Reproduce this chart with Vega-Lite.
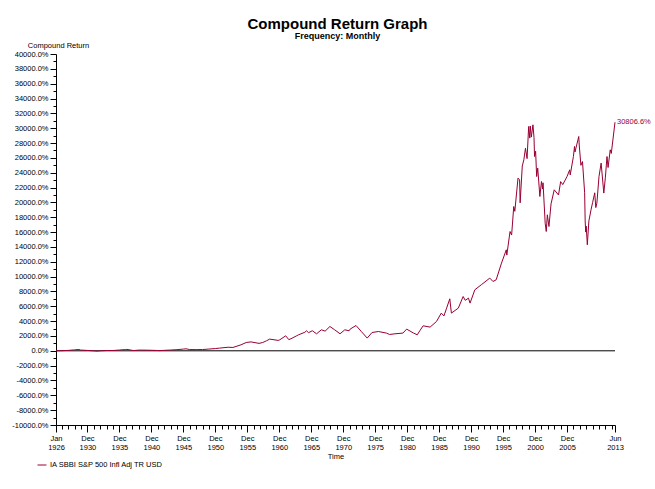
{
  "$schema": "https://vega.github.io/schema/vega-lite/v6.json",
  "width": 559,
  "height": 371,
  "autosize": "none",
  "padding": {"left": 56, "top": 54, "right": 40, "bottom": 64},
  "background": "white",
  "config": {
    "view": {"stroke": null},
    "font": "Liberation Sans",
    "axis": {"grid": false, "domainColor": "black", "tickColor": "black", "labelColor": "black", "titleColor": "black", "labelFont": "Liberation Sans", "titleFont": "Liberation Sans", "labelFontSize": 7.5, "titleFontSize": 7.5, "titleFontWeight": "normal"}
  },
  "title": {
    "text": "Compound Return Graph",
    "subtitle": "Frequency: Monthly",
    "font": "Liberation Sans",
    "fontSize": 15,
    "fontWeight": "bold",
    "subtitleFont": "Liberation Sans",
    "subtitleFontSize": 9,
    "subtitleFontWeight": "bold",
    "subtitleColor": "black",
    "subtitlePadding": 0,
    "color": "black",
    "anchor": "middle",
    "frame": "group",
    "dx": 2,
    "offset": 0
  },
  "data": {
    "values": [
      {"date": "1926-01-01", "value": 0, "series": "IA SBBI S&P 500 Infl Adj TR USD"},
      {"date": "1926-12-01", "value": 15, "series": "IA SBBI S&P 500 Infl Adj TR USD"},
      {"date": "1927-12-01", "value": 55, "series": "IA SBBI S&P 500 Infl Adj TR USD"},
      {"date": "1928-12-01", "value": 125, "series": "IA SBBI S&P 500 Infl Adj TR USD"},
      {"date": "1929-08-01", "value": 180, "series": "IA SBBI S&P 500 Infl Adj TR USD"},
      {"date": "1929-11-01", "value": 100, "series": "IA SBBI S&P 500 Infl Adj TR USD"},
      {"date": "1930-12-01", "value": 50, "series": "IA SBBI S&P 500 Infl Adj TR USD"},
      {"date": "1931-12-01", "value": -10, "series": "IA SBBI S&P 500 Infl Adj TR USD"},
      {"date": "1932-06-01", "value": -45, "series": "IA SBBI S&P 500 Infl Adj TR USD"},
      {"date": "1932-12-01", "value": 0, "series": "IA SBBI S&P 500 Infl Adj TR USD"},
      {"date": "1933-12-01", "value": 40, "series": "IA SBBI S&P 500 Infl Adj TR USD"},
      {"date": "1934-12-01", "value": 40, "series": "IA SBBI S&P 500 Infl Adj TR USD"},
      {"date": "1935-12-01", "value": 105, "series": "IA SBBI S&P 500 Infl Adj TR USD"},
      {"date": "1936-12-01", "value": 170, "series": "IA SBBI S&P 500 Infl Adj TR USD"},
      {"date": "1937-02-01", "value": 190, "series": "IA SBBI S&P 500 Infl Adj TR USD"},
      {"date": "1937-12-01", "value": 65, "series": "IA SBBI S&P 500 Infl Adj TR USD"},
      {"date": "1938-03-01", "value": 30, "series": "IA SBBI S&P 500 Infl Adj TR USD"},
      {"date": "1938-12-01", "value": 95, "series": "IA SBBI S&P 500 Infl Adj TR USD"},
      {"date": "1939-12-01", "value": 90, "series": "IA SBBI S&P 500 Infl Adj TR USD"},
      {"date": "1940-12-01", "value": 70, "series": "IA SBBI S&P 500 Infl Adj TR USD"},
      {"date": "1941-12-01", "value": 40, "series": "IA SBBI S&P 500 Infl Adj TR USD"},
      {"date": "1942-04-01", "value": 25, "series": "IA SBBI S&P 500 Infl Adj TR USD"},
      {"date": "1942-12-01", "value": 60, "series": "IA SBBI S&P 500 Infl Adj TR USD"},
      {"date": "1943-12-01", "value": 105, "series": "IA SBBI S&P 500 Infl Adj TR USD"},
      {"date": "1944-12-01", "value": 150, "series": "IA SBBI S&P 500 Infl Adj TR USD"},
      {"date": "1945-12-01", "value": 230, "series": "IA SBBI S&P 500 Infl Adj TR USD"},
      {"date": "1946-05-01", "value": 270, "series": "IA SBBI S&P 500 Infl Adj TR USD"},
      {"date": "1946-12-01", "value": 170, "series": "IA SBBI S&P 500 Infl Adj TR USD"},
      {"date": "1947-12-01", "value": 160, "series": "IA SBBI S&P 500 Infl Adj TR USD"},
      {"date": "1948-12-01", "value": 170, "series": "IA SBBI S&P 500 Infl Adj TR USD"},
      {"date": "1949-12-01", "value": 235, "series": "IA SBBI S&P 500 Infl Adj TR USD"},
      {"date": "1950-12-01", "value": 300, "series": "IA SBBI S&P 500 Infl Adj TR USD"},
      {"date": "1951-08-01", "value": 364, "series": "IA SBBI S&P 500 Infl Adj TR USD"},
      {"date": "1952-12-01", "value": 480, "series": "IA SBBI S&P 500 Infl Adj TR USD"},
      {"date": "1953-09-01", "value": 450, "series": "IA SBBI S&P 500 Infl Adj TR USD"},
      {"date": "1954-12-01", "value": 800, "series": "IA SBBI S&P 500 Infl Adj TR USD"},
      {"date": "1955-10-01", "value": 1119, "series": "IA SBBI S&P 500 Infl Adj TR USD"},
      {"date": "1956-07-01", "value": 1200, "series": "IA SBBI S&P 500 Infl Adj TR USD"},
      {"date": "1957-10-01", "value": 1000, "series": "IA SBBI S&P 500 Infl Adj TR USD"},
      {"date": "1958-05-01", "value": 1119, "series": "IA SBBI S&P 500 Infl Adj TR USD"},
      {"date": "1958-12-01", "value": 1350, "series": "IA SBBI S&P 500 Infl Adj TR USD"},
      {"date": "1959-06-01", "value": 1577, "series": "IA SBBI S&P 500 Infl Adj TR USD"},
      {"date": "1960-10-01", "value": 1400, "series": "IA SBBI S&P 500 Infl Adj TR USD"},
      {"date": "1961-01-01", "value": 1482, "series": "IA SBBI S&P 500 Infl Adj TR USD"},
      {"date": "1961-12-01", "value": 2022, "series": "IA SBBI S&P 500 Infl Adj TR USD"},
      {"date": "1962-06-01", "value": 1500, "series": "IA SBBI S&P 500 Infl Adj TR USD"},
      {"date": "1962-12-01", "value": 1700, "series": "IA SBBI S&P 500 Infl Adj TR USD"},
      {"date": "1963-08-01", "value": 2000, "series": "IA SBBI S&P 500 Infl Adj TR USD"},
      {"date": "1963-12-01", "value": 2150, "series": "IA SBBI S&P 500 Infl Adj TR USD"},
      {"date": "1964-12-01", "value": 2500, "series": "IA SBBI S&P 500 Infl Adj TR USD"},
      {"date": "1965-03-01", "value": 2695, "series": "IA SBBI S&P 500 Infl Adj TR USD"},
      {"date": "1965-07-01", "value": 2450, "series": "IA SBBI S&P 500 Infl Adj TR USD"},
      {"date": "1966-02-01", "value": 2700, "series": "IA SBBI S&P 500 Infl Adj TR USD"},
      {"date": "1966-10-01", "value": 2291, "series": "IA SBBI S&P 500 Infl Adj TR USD"},
      {"date": "1967-07-01", "value": 2830, "series": "IA SBBI S&P 500 Infl Adj TR USD"},
      {"date": "1968-02-01", "value": 2650, "series": "IA SBBI S&P 500 Infl Adj TR USD"},
      {"date": "1968-11-01", "value": 3275, "series": "IA SBBI S&P 500 Infl Adj TR USD"},
      {"date": "1969-08-01", "value": 2830, "series": "IA SBBI S&P 500 Infl Adj TR USD"},
      {"date": "1970-06-01", "value": 2291, "series": "IA SBBI S&P 500 Infl Adj TR USD"},
      {"date": "1971-03-01", "value": 2830, "series": "IA SBBI S&P 500 Infl Adj TR USD"},
      {"date": "1971-11-01", "value": 2700, "series": "IA SBBI S&P 500 Infl Adj TR USD"},
      {"date": "1972-01-01", "value": 2924, "series": "IA SBBI S&P 500 Infl Adj TR USD"},
      {"date": "1972-12-01", "value": 3410, "series": "IA SBBI S&P 500 Infl Adj TR USD"},
      {"date": "1973-10-01", "value": 2601, "series": "IA SBBI S&P 500 Infl Adj TR USD"},
      {"date": "1974-09-01", "value": 1712, "series": "IA SBBI S&P 500 Infl Adj TR USD"},
      {"date": "1975-06-01", "value": 2466, "series": "IA SBBI S&P 500 Infl Adj TR USD"},
      {"date": "1976-06-01", "value": 2601, "series": "IA SBBI S&P 500 Infl Adj TR USD"},
      {"date": "1977-09-01", "value": 2385, "series": "IA SBBI S&P 500 Infl Adj TR USD"},
      {"date": "1978-03-01", "value": 2200, "series": "IA SBBI S&P 500 Infl Adj TR USD"},
      {"date": "1979-01-01", "value": 2291, "series": "IA SBBI S&P 500 Infl Adj TR USD"},
      {"date": "1980-04-01", "value": 2385, "series": "IA SBBI S&P 500 Infl Adj TR USD"},
      {"date": "1980-11-01", "value": 2924, "series": "IA SBBI S&P 500 Infl Adj TR USD"},
      {"date": "1981-12-01", "value": 2385, "series": "IA SBBI S&P 500 Infl Adj TR USD"},
      {"date": "1982-07-01", "value": 2156, "series": "IA SBBI S&P 500 Infl Adj TR USD"},
      {"date": "1982-12-01", "value": 2736, "series": "IA SBBI S&P 500 Infl Adj TR USD"},
      {"date": "1983-06-01", "value": 3369, "series": "IA SBBI S&P 500 Infl Adj TR USD"},
      {"date": "1984-07-01", "value": 3194, "series": "IA SBBI S&P 500 Infl Adj TR USD"},
      {"date": "1985-07-01", "value": 3949, "series": "IA SBBI S&P 500 Infl Adj TR USD"},
      {"date": "1986-04-01", "value": 5081, "series": "IA SBBI S&P 500 Infl Adj TR USD"},
      {"date": "1986-09-01", "value": 4700, "series": "IA SBBI S&P 500 Infl Adj TR USD"},
      {"date": "1987-02-01", "value": 5755, "series": "IA SBBI S&P 500 Infl Adj TR USD"},
      {"date": "1987-08-01", "value": 7008, "series": "IA SBBI S&P 500 Infl Adj TR USD"},
      {"date": "1987-11-01", "value": 5081, "series": "IA SBBI S&P 500 Infl Adj TR USD"},
      {"date": "1988-12-01", "value": 5755, "series": "IA SBBI S&P 500 Infl Adj TR USD"},
      {"date": "1989-09-01", "value": 7318, "series": "IA SBBI S&P 500 Infl Adj TR USD"},
      {"date": "1990-01-01", "value": 6800, "series": "IA SBBI S&P 500 Infl Adj TR USD"},
      {"date": "1990-07-01", "value": 7102, "series": "IA SBBI S&P 500 Infl Adj TR USD"},
      {"date": "1990-10-01", "value": 6429, "series": "IA SBBI S&P 500 Infl Adj TR USD"},
      {"date": "1991-07-01", "value": 8221, "series": "IA SBBI S&P 500 Infl Adj TR USD"},
      {"date": "1992-07-01", "value": 8895, "series": "IA SBBI S&P 500 Infl Adj TR USD"},
      {"date": "1993-11-01", "value": 9798, "series": "IA SBBI S&P 500 Infl Adj TR USD"},
      {"date": "1994-05-01", "value": 9340, "series": "IA SBBI S&P 500 Infl Adj TR USD"},
      {"date": "1994-11-01", "value": 9569, "series": "IA SBBI S&P 500 Infl Adj TR USD"},
      {"date": "1995-09-01", "value": 11819, "series": "IA SBBI S&P 500 Infl Adj TR USD"},
      {"date": "1996-06-01", "value": 13612, "series": "IA SBBI S&P 500 Infl Adj TR USD"},
      {"date": "1996-07-01", "value": 12900, "series": "IA SBBI S&P 500 Infl Adj TR USD"},
      {"date": "1997-01-01", "value": 16078, "series": "IA SBBI S&P 500 Infl Adj TR USD"},
      {"date": "1997-04-01", "value": 15600, "series": "IA SBBI S&P 500 Infl Adj TR USD"},
      {"date": "1997-08-01", "value": 19447, "series": "IA SBBI S&P 500 Infl Adj TR USD"},
      {"date": "1997-10-01", "value": 18800, "series": "IA SBBI S&P 500 Infl Adj TR USD"},
      {"date": "1998-04-01", "value": 23275, "series": "IA SBBI S&P 500 Infl Adj TR USD"},
      {"date": "1998-07-01", "value": 23046, "series": "IA SBBI S&P 500 Infl Adj TR USD"},
      {"date": "1998-08-01", "value": 19946, "series": "IA SBBI S&P 500 Infl Adj TR USD"},
      {"date": "1998-12-01", "value": 24900, "series": "IA SBBI S&P 500 Infl Adj TR USD"},
      {"date": "1999-03-01", "value": 25741, "series": "IA SBBI S&P 500 Infl Adj TR USD"},
      {"date": "1999-06-01", "value": 27300, "series": "IA SBBI S&P 500 Infl Adj TR USD"},
      {"date": "1999-09-01", "value": 25900, "series": "IA SBBI S&P 500 Infl Adj TR USD"},
      {"date": "1999-12-01", "value": 30229, "series": "IA SBBI S&P 500 Infl Adj TR USD"},
      {"date": "2000-02-01", "value": 28665, "series": "IA SBBI S&P 500 Infl Adj TR USD"},
      {"date": "2000-03-01", "value": 30300, "series": "IA SBBI S&P 500 Infl Adj TR USD"},
      {"date": "2000-05-01", "value": 28800, "series": "IA SBBI S&P 500 Infl Adj TR USD"},
      {"date": "2000-08-01", "value": 30458, "series": "IA SBBI S&P 500 Infl Adj TR USD"},
      {"date": "2000-10-01", "value": 28754, "series": "IA SBBI S&P 500 Infl Adj TR USD"},
      {"date": "2000-11-01", "value": 26185, "series": "IA SBBI S&P 500 Infl Adj TR USD"},
      {"date": "2001-01-01", "value": 26900, "series": "IA SBBI S&P 500 Infl Adj TR USD"},
      {"date": "2001-03-01", "value": 23490, "series": "IA SBBI S&P 500 Infl Adj TR USD"},
      {"date": "2001-05-01", "value": 24618, "series": "IA SBBI S&P 500 Infl Adj TR USD"},
      {"date": "2001-09-01", "value": 20795, "series": "IA SBBI S&P 500 Infl Adj TR USD"},
      {"date": "2001-12-01", "value": 22817, "series": "IA SBBI S&P 500 Infl Adj TR USD"},
      {"date": "2002-02-01", "value": 21800, "series": "IA SBBI S&P 500 Infl Adj TR USD"},
      {"date": "2002-03-01", "value": 22641, "series": "IA SBBI S&P 500 Infl Adj TR USD"},
      {"date": "2002-07-01", "value": 17200, "series": "IA SBBI S&P 500 Infl Adj TR USD"},
      {"date": "2002-09-01", "value": 16078, "series": "IA SBBI S&P 500 Infl Adj TR USD"},
      {"date": "2002-11-01", "value": 18329, "series": "IA SBBI S&P 500 Infl Adj TR USD"},
      {"date": "2003-02-01", "value": 16752, "series": "IA SBBI S&P 500 Infl Adj TR USD"},
      {"date": "2003-06-01", "value": 19800, "series": "IA SBBI S&P 500 Infl Adj TR USD"},
      {"date": "2003-12-01", "value": 21698, "series": "IA SBBI S&P 500 Infl Adj TR USD"},
      {"date": "2004-08-01", "value": 21000, "series": "IA SBBI S&P 500 Infl Adj TR USD"},
      {"date": "2004-12-01", "value": 22800, "series": "IA SBBI S&P 500 Infl Adj TR USD"},
      {"date": "2005-04-01", "value": 22400, "series": "IA SBBI S&P 500 Infl Adj TR USD"},
      {"date": "2005-12-01", "value": 23490, "series": "IA SBBI S&P 500 Infl Adj TR USD"},
      {"date": "2006-05-01", "value": 24393, "series": "IA SBBI S&P 500 Infl Adj TR USD"},
      {"date": "2006-06-01", "value": 23700, "series": "IA SBBI S&P 500 Infl Adj TR USD"},
      {"date": "2006-12-01", "value": 26200, "series": "IA SBBI S&P 500 Infl Adj TR USD"},
      {"date": "2007-02-01", "value": 27534, "series": "IA SBBI S&P 500 Infl Adj TR USD"},
      {"date": "2007-03-01", "value": 26800, "series": "IA SBBI S&P 500 Infl Adj TR USD"},
      {"date": "2007-10-01", "value": 28882, "series": "IA SBBI S&P 500 Infl Adj TR USD"},
      {"date": "2007-11-01", "value": 27600, "series": "IA SBBI S&P 500 Infl Adj TR USD"},
      {"date": "2008-02-01", "value": 25000, "series": "IA SBBI S&P 500 Infl Adj TR USD"},
      {"date": "2008-05-01", "value": 25500, "series": "IA SBBI S&P 500 Infl Adj TR USD"},
      {"date": "2008-09-01", "value": 21294, "series": "IA SBBI S&P 500 Infl Adj TR USD"},
      {"date": "2008-10-01", "value": 17500, "series": "IA SBBI S&P 500 Infl Adj TR USD"},
      {"date": "2008-11-01", "value": 16000, "series": "IA SBBI S&P 500 Infl Adj TR USD"},
      {"date": "2008-12-01", "value": 16800, "series": "IA SBBI S&P 500 Infl Adj TR USD"},
      {"date": "2009-02-01", "value": 14286, "series": "IA SBBI S&P 500 Infl Adj TR USD"},
      {"date": "2009-05-01", "value": 17500, "series": "IA SBBI S&P 500 Infl Adj TR USD"},
      {"date": "2009-09-01", "value": 19003, "series": "IA SBBI S&P 500 Infl Adj TR USD"},
      {"date": "2009-12-01", "value": 20000, "series": "IA SBBI S&P 500 Infl Adj TR USD"},
      {"date": "2010-04-01", "value": 21294, "series": "IA SBBI S&P 500 Infl Adj TR USD"},
      {"date": "2010-06-01", "value": 19300, "series": "IA SBBI S&P 500 Infl Adj TR USD"},
      {"date": "2010-08-01", "value": 19905, "series": "IA SBBI S&P 500 Infl Adj TR USD"},
      {"date": "2010-12-01", "value": 23500, "series": "IA SBBI S&P 500 Infl Adj TR USD"},
      {"date": "2011-04-01", "value": 25296, "series": "IA SBBI S&P 500 Infl Adj TR USD"},
      {"date": "2011-09-01", "value": 21253, "series": "IA SBBI S&P 500 Infl Adj TR USD"},
      {"date": "2011-12-01", "value": 23400, "series": "IA SBBI S&P 500 Infl Adj TR USD"},
      {"date": "2012-03-01", "value": 26185, "series": "IA SBBI S&P 500 Infl Adj TR USD"},
      {"date": "2012-05-01", "value": 24700, "series": "IA SBBI S&P 500 Infl Adj TR USD"},
      {"date": "2012-09-01", "value": 27089, "series": "IA SBBI S&P 500 Infl Adj TR USD"},
      {"date": "2012-11-01", "value": 26600, "series": "IA SBBI S&P 500 Infl Adj TR USD"},
      {"date": "2013-06-01", "value": 30806.6, "series": "IA SBBI S&P 500 Infl Adj TR USD"}
    ]
  },
  "layer": [
    {
      "data": {"values": [{"zero": 0}]},
      "mark": {"type": "rule", "color": "black", "strokeWidth": 1},
      "encoding": {"y": {"field": "zero", "type": "quantitative"}}
    },
    {
      "mark": {"type": "line", "strokeWidth": 1, "interpolate": "linear"},
      "encoding": {
        "x": {
          "field": "date",
          "type": "temporal",
          "scale": {"type": "utc", "domain": [{"year": 1926, "month": 1, "date": 1, "utc": true}, {"year": 2013, "month": 6, "date": 1, "utc": true}]},
          "axis": {
            "title": "Time",
            "titlePadding": 2,
            "labelPadding": 2,
            "labelLineHeight": 9,
            "labelFlush": false,
            "labelOverlap": false,
            "tickCount": 200,
            "values": [
              {"year": 1926, "month": 1, "date": 1, "utc": true},
              {"year": 1926, "month": 12, "date": 1, "utc": true},
              {"year": 1927, "month": 12, "date": 1, "utc": true},
              {"year": 1928, "month": 12, "date": 1, "utc": true},
              {"year": 1929, "month": 12, "date": 1, "utc": true},
              {"year": 1930, "month": 12, "date": 1, "utc": true},
              {"year": 1931, "month": 12, "date": 1, "utc": true},
              {"year": 1932, "month": 12, "date": 1, "utc": true},
              {"year": 1933, "month": 12, "date": 1, "utc": true},
              {"year": 1934, "month": 12, "date": 1, "utc": true},
              {"year": 1935, "month": 12, "date": 1, "utc": true},
              {"year": 1936, "month": 12, "date": 1, "utc": true},
              {"year": 1937, "month": 12, "date": 1, "utc": true},
              {"year": 1938, "month": 12, "date": 1, "utc": true},
              {"year": 1939, "month": 12, "date": 1, "utc": true},
              {"year": 1940, "month": 12, "date": 1, "utc": true},
              {"year": 1941, "month": 12, "date": 1, "utc": true},
              {"year": 1942, "month": 12, "date": 1, "utc": true},
              {"year": 1943, "month": 12, "date": 1, "utc": true},
              {"year": 1944, "month": 12, "date": 1, "utc": true},
              {"year": 1945, "month": 12, "date": 1, "utc": true},
              {"year": 1946, "month": 12, "date": 1, "utc": true},
              {"year": 1947, "month": 12, "date": 1, "utc": true},
              {"year": 1948, "month": 12, "date": 1, "utc": true},
              {"year": 1949, "month": 12, "date": 1, "utc": true},
              {"year": 1950, "month": 12, "date": 1, "utc": true},
              {"year": 1951, "month": 12, "date": 1, "utc": true},
              {"year": 1952, "month": 12, "date": 1, "utc": true},
              {"year": 1953, "month": 12, "date": 1, "utc": true},
              {"year": 1954, "month": 12, "date": 1, "utc": true},
              {"year": 1955, "month": 12, "date": 1, "utc": true},
              {"year": 1956, "month": 12, "date": 1, "utc": true},
              {"year": 1957, "month": 12, "date": 1, "utc": true},
              {"year": 1958, "month": 12, "date": 1, "utc": true},
              {"year": 1959, "month": 12, "date": 1, "utc": true},
              {"year": 1960, "month": 12, "date": 1, "utc": true},
              {"year": 1961, "month": 12, "date": 1, "utc": true},
              {"year": 1962, "month": 12, "date": 1, "utc": true},
              {"year": 1963, "month": 12, "date": 1, "utc": true},
              {"year": 1964, "month": 12, "date": 1, "utc": true},
              {"year": 1965, "month": 12, "date": 1, "utc": true},
              {"year": 1966, "month": 12, "date": 1, "utc": true},
              {"year": 1967, "month": 12, "date": 1, "utc": true},
              {"year": 1968, "month": 12, "date": 1, "utc": true},
              {"year": 1969, "month": 12, "date": 1, "utc": true},
              {"year": 1970, "month": 12, "date": 1, "utc": true},
              {"year": 1971, "month": 12, "date": 1, "utc": true},
              {"year": 1972, "month": 12, "date": 1, "utc": true},
              {"year": 1973, "month": 12, "date": 1, "utc": true},
              {"year": 1974, "month": 12, "date": 1, "utc": true},
              {"year": 1975, "month": 12, "date": 1, "utc": true},
              {"year": 1976, "month": 12, "date": 1, "utc": true},
              {"year": 1977, "month": 12, "date": 1, "utc": true},
              {"year": 1978, "month": 12, "date": 1, "utc": true},
              {"year": 1979, "month": 12, "date": 1, "utc": true},
              {"year": 1980, "month": 12, "date": 1, "utc": true},
              {"year": 1981, "month": 12, "date": 1, "utc": true},
              {"year": 1982, "month": 12, "date": 1, "utc": true},
              {"year": 1983, "month": 12, "date": 1, "utc": true},
              {"year": 1984, "month": 12, "date": 1, "utc": true},
              {"year": 1985, "month": 12, "date": 1, "utc": true},
              {"year": 1986, "month": 12, "date": 1, "utc": true},
              {"year": 1987, "month": 12, "date": 1, "utc": true},
              {"year": 1988, "month": 12, "date": 1, "utc": true},
              {"year": 1989, "month": 12, "date": 1, "utc": true},
              {"year": 1990, "month": 12, "date": 1, "utc": true},
              {"year": 1991, "month": 12, "date": 1, "utc": true},
              {"year": 1992, "month": 12, "date": 1, "utc": true},
              {"year": 1993, "month": 12, "date": 1, "utc": true},
              {"year": 1994, "month": 12, "date": 1, "utc": true},
              {"year": 1995, "month": 12, "date": 1, "utc": true},
              {"year": 1996, "month": 12, "date": 1, "utc": true},
              {"year": 1997, "month": 12, "date": 1, "utc": true},
              {"year": 1998, "month": 12, "date": 1, "utc": true},
              {"year": 1999, "month": 12, "date": 1, "utc": true},
              {"year": 2000, "month": 12, "date": 1, "utc": true},
              {"year": 2001, "month": 12, "date": 1, "utc": true},
              {"year": 2002, "month": 12, "date": 1, "utc": true},
              {"year": 2003, "month": 12, "date": 1, "utc": true},
              {"year": 2004, "month": 12, "date": 1, "utc": true},
              {"year": 2005, "month": 12, "date": 1, "utc": true},
              {"year": 2006, "month": 12, "date": 1, "utc": true},
              {"year": 2007, "month": 12, "date": 1, "utc": true},
              {"year": 2008, "month": 12, "date": 1, "utc": true},
              {"year": 2009, "month": 12, "date": 1, "utc": true},
              {"year": 2010, "month": 12, "date": 1, "utc": true},
              {"year": 2011, "month": 12, "date": 1, "utc": true},
              {"year": 2012, "month": 12, "date": 1, "utc": true},
              {"year": 2013, "month": 6, "date": 1, "utc": true}
            ],
            "labelExpr": "((utcmonth(datum.value)==11 && utcyear(datum.value)%5==0 && utcyear(datum.value)<2010) || (utcyear(datum.value)==1926 && utcmonth(datum.value)==0) || utcyear(datum.value)==2013) ? [utcFormat(datum.value, '%b'), utcFormat(datum.value, '%Y')] : ''",
            "tickSize": {"condition": {"test": "(utcmonth(datum.value)==11 && utcyear(datum.value)%5==0 && utcyear(datum.value)<2010) || (utcyear(datum.value)==1926 && utcmonth(datum.value)==0) || utcyear(datum.value)==2013", "value": 7}, "value": 4}
          }
        },
        "y": {
          "field": "value",
          "type": "quantitative",
          "scale": {"domain": [-10000, 40000], "nice": false, "zero": false},
          "axis": {
            "title": "Compound Return",
            "titleAngle": 0,
            "titleAlign": "center",
            "titleBaseline": "bottom",
            "titleX": 2,
            "titleY": -5,
            "labelPadding": 2,
            "labelOverlap": false,
            "tickCount": 200,
            "values": [-10000, -9000, -8000, -7000, -6000, -5000, -4000, -3000, -2000, -1000, 0, 1000, 2000, 3000, 4000, 5000, 6000, 7000, 8000, 9000, 10000, 11000, 12000, 13000, 14000, 15000, 16000, 17000, 18000, 19000, 20000, 21000, 22000, 23000, 24000, 25000, 26000, 27000, 28000, 29000, 30000, 31000, 32000, 33000, 34000, 35000, 36000, 37000, 38000, 39000, 40000],
            "labelExpr": "datum.value % 2000 == 0 ? (datum.value < 0 ? '-' : '') + format(abs(datum.value), '.1f') + '%' : ''",
            "tickSize": {"condition": {"test": "datum.value % 2000 == 0", "value": 6}, "value": 3}
          }
        },
        "color": {
          "field": "series",
          "type": "nominal",
          "scale": {"range": ["#990033"]},
          "legend": {
            "title": null,
            "orient": "none",
            "legendX": -19,
            "legendY": 406,
            "symbolType": "stroke",
            "symbolSize": 80,
            "symbolStrokeWidth": 1,
            "labelFont": "Liberation Sans",
            "labelFontSize": 7.5,
            "labelColor": "black",
            "labelOffset": 3
          }
        }
      }
    },
    {
      "transform": [{"filter": "datum.value == 30806.6"}],
      "mark": {"type": "text", "align": "left", "baseline": "middle", "dx": 2, "fontSize": 7.5, "color": "#990033", "font": "Liberation Sans"},
      "encoding": {
        "x": {"field": "date", "type": "temporal"},
        "y": {"field": "value", "type": "quantitative"},
        "text": {"value": "30806.6%"}
      }
    }
  ]
}
